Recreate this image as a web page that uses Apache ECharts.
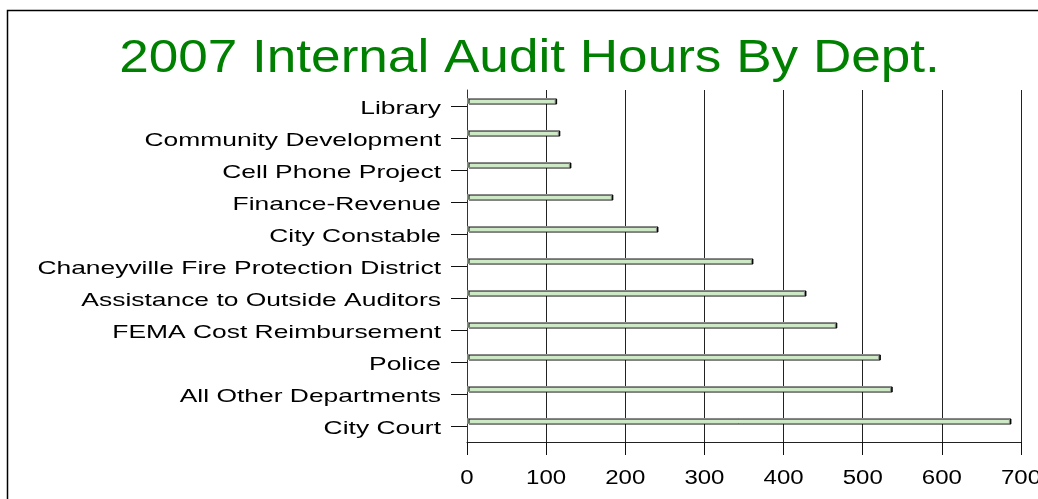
<!DOCTYPE html>
<html><head><meta charset="utf-8">
<script src="https://cdn.jsdelivr.net/npm/echarts@6/dist/echarts.min.js"></script>
<style>html,body{margin:0;padding:0;background:#fff}#c{width:1038px;height:499px}</style>
</head><body><div id="c"></div>
<script>
const titleText = '2007 Internal Audit Hours By Dept.';
const categories = ['City Court','All Other Departments','Police','FEMA Cost Reimbursement','Assistance to Outside Auditors','Chaneyville Fire Protection District','City Constable','Finance-Revenue','Cell Phone Project','Community Development','Library'];
const hours = [686, 536, 521, 466, 427, 360, 240, 183, 130, 116, 112];
const xTicks = [0, 100, 200, 300, 400, 500, 600, 700];

const chart = echarts.init(document.getElementById('c'), null, {renderer:'canvas'});
const font = '"Liberation Sans", Arial, sans-serif';
chart.setOption({
  animation:false,
  backgroundColor:'#fff',
  grid:{left:467,right:17,top:90,bottom:57},
  xAxis:{type:'value',min:xTicks[0],max:xTicks[xTicks.length-1],interval:100,
    axisLine:{show:true,lineStyle:{color:'#222',width:1}},
    axisTick:{show:true,length:13,lineStyle:{color:'#111'}},
    axisLabel:{show:false},
    splitLine:{show:true,lineStyle:{color:'#222',width:1}}},
  yAxis:{type:'category',data:categories,
    axisLine:{show:true,lineStyle:{color:'#333'}},
    axisTick:{show:true,alignWithLabel:true,length:16,lineStyle:{color:'#111'}},
    axisLabel:{show:false}},
  series:[
    {type:'bar',data:hours,barWidth:6,barGap:'67%',
     itemStyle:{color:'#cde9c5',borderColor:'#8a8a8a',borderWidth:1,
       shadowColor:'#000',shadowOffsetX:1.5,shadowOffsetY:0.5,shadowBlur:0}},
    {type:'bar',data:categories.map(()=>null),barWidth:6}
  ]
});

const g = [];
g.push({type:'rect',shape:{x:7.5,y:10.5,width:1200,height:700},style:{fill:null,stroke:'#000',lineWidth:1.5},silent:true});
g.push({type:'text',x:529.5,y:59,scaleX:1.13,silent:true,
  style:{text:titleText,x:0,y:0,align:'center',verticalAlign:'middle',fill:'#008000',font:'47px ' + font}});
categories.forEach(c => {
  const y = chart.convertToPixel({yAxisIndex:0}, c);
  g.push({type:'text',x:441,y:y+2.5,scaleX:1.39,silent:true,
    style:{text:c,x:0,y:0,align:'right',verticalAlign:'middle',fill:'#000',font:'19px ' + font}});
});
xTicks.forEach(v => {
  const x = chart.convertToPixel({xAxisIndex:0}, v);
  g.push({type:'text',x:x,y:478,scaleX:1.2,silent:true,
    style:{text:String(v),x:0,y:0,align:'center',verticalAlign:'middle',fill:'#000',font:'20px ' + font}});
});
chart.setOption({graphic:g});
</script></body></html>
